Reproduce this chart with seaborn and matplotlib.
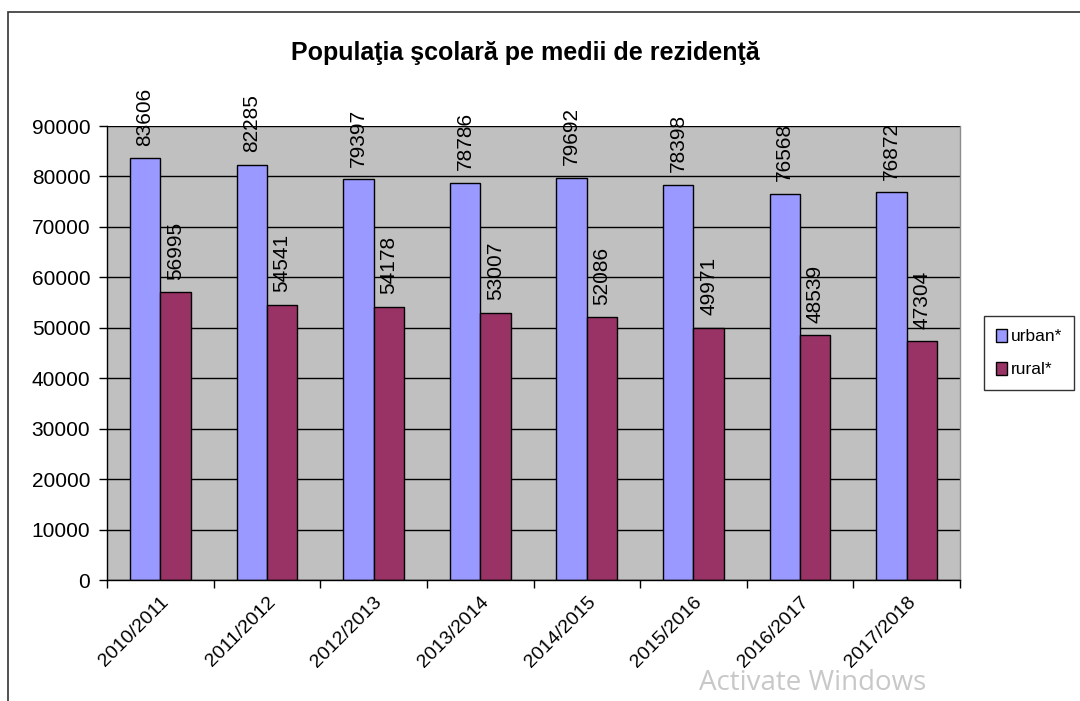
import pandas as pd
import numpy as np
import matplotlib.pyplot as plt
import seaborn as sns
from matplotlib.patches import Rectangle

# values
years = ['2010/2011', '2011/2012', '2012/2013', '2013/2014',
         '2014/2015', '2015/2016', '2016/2017', '2017/2018']
urban = [83606, 82285, 79397, 78786, 79692, 78398, 76568, 76872]
rural = [56995, 54541, 54178, 53007, 52086, 49971, 48539, 47304]
series = ['urban*', 'rural*']
colors = ['#9999FF', '#993366']

df = pd.DataFrame({
    'an': years * 2,
    'elevi': urban + rural,
    'mediu': [series[0]] * len(years) + [series[1]] * len(years),
})

sns.set_style('white')
plt.rcParams['font.family'] = ['Liberation Sans', 'DejaVu Sans']
plt.rcParams['text.color'] = 'black'
plt.rcParams['xtick.color'] = 'black'
plt.rcParams['ytick.color'] = 'black'

fig = plt.figure(figsize=(10.8, 7.01), dpi=100)
ax = fig.add_axes([107 / 1080, 1 - 580 / 701, (960 - 107) / 1080, (580 - 126) / 701])
ax.set_facecolor('#C0C0C0')

sns.barplot(data=df, x='an', y='elevi', hue='mediu', palette=colors,
            saturation=1, width=0.57, edgecolor='black', linewidth=1,
            ax=ax, legend=False)

# data labels
for cont in ax.containers:
    ax.bar_label(cont, labels=[str(int(v)) for v in cont.datavalues],
                 rotation=90, padding=9, fontsize=15, color='black')

ax.set_ylim(0, 90000)
ax.set_xlim(-0.5, len(years) - 0.5)
ax.set_yticks(np.arange(0, 90001, 10000))
ax.yaxis.grid(True, color='black', linewidth=1)
ax.set_axisbelow(True)

ax.tick_params(axis='y', labelsize=15, length=6, width=1, color='black',
               left=True, pad=6)
ax.tick_params(axis='x', which='major', length=0, labelsize=14, pad=10)
ax.set_xticks(np.arange(-0.5, len(years), 1), minor=True)
ax.tick_params(axis='x', which='minor', length=6, width=1, color='black',
               bottom=True)
ax.set_xticks(range(len(years)))
ax.set_xticklabels(years, rotation=45, ha='right', rotation_mode='anchor')

ax.spines['top'].set_visible(False)
ax.spines['right'].set_color('#8c8c8c')
ax.spines['right'].set_linewidth(1)
for s in ['left', 'bottom']:
    ax.spines[s].set_color('black')
    ax.spines[s].set_linewidth(1)
ax.set_xlabel('')
ax.set_ylabel('')

fig.text(0.486, 0.925, 'Populaţia şcolară pe medii de rezidenţă',
         ha='center', va='center', fontsize=18, fontweight='bold')

# legend box
handles = [Rectangle((0, 0), 1, 1, facecolor=c, edgecolor='black') for c in colors]
fig.legend(handles, series, loc='center left', bbox_to_anchor=(984 / 1080, 1 - 353 / 701),
           frameon=True, fancybox=False, edgecolor='black', fontsize=12.5,
           handlelength=0.6, handleheight=0.8, handletextpad=0.25,
           labelspacing=1.0, borderpad=0.7, borderaxespad=0)

# chart area border
fig.add_artist(Rectangle((8 / 1080, -0.1), 1.2, 0.1 + (701 - 12) / 701,
                         transform=fig.transFigure, fill=False,
                         edgecolor='#333333', linewidth=1.2))

fig.text(0.752, 0.025, 'Activate Windows', ha='center', va='center',
         fontsize=20, color='#c8c8c8', family=['Open Sans', 'DejaVu Sans'])

fig.savefig('out.png', dpi=100)
